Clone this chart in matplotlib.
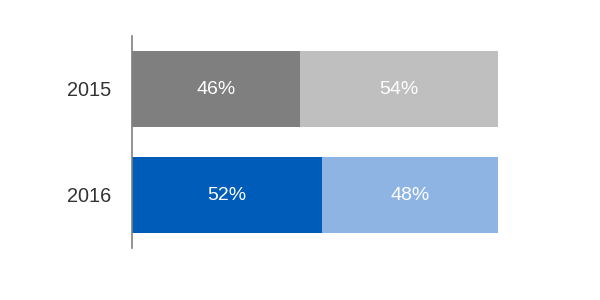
import matplotlib
matplotlib.use("Agg")
import matplotlib.pyplot as plt

categories = ["2015", "2016"]
first_share = [46, 52]
second_share = [54, 48]
first_colors = ["#7f7f7f", "#005cb9"]
second_colors = ["#bfbfbf", "#8eb4e3"]

plt.rcParams['font.family'] = ['Liberation Sans', 'DejaVu Sans']

fig = plt.figure(figsize=(6, 3), dpi=100)
ax = fig.add_axes([132/600, 52/300, 366/600, 212/300])

y = list(range(len(categories)))
ax.barh(y, first_share, height=0.72, color=first_colors)
ax.barh(y, second_share, left=first_share, height=0.72, color=second_colors)

for i in y:
    ax.text(first_share[i] / 2, i, f"{first_share[i]}%", ha="center", va="center",
            color="white", fontsize=14)
    ax.text(first_share[i] + second_share[i] / 2, i, f"{second_share[i]}%", ha="center",
            va="center", color="white", fontsize=14)

ax.set_xlim(0, 100)
ax.set_ylim(1.5, -0.5)
ax.set_yticks(y)
ax.set_yticklabels(categories, fontsize=14.3, color="#333333")
ax.tick_params(axis="y", length=0, pad=15)
ax.set_xticks([])
for s in ["top", "right", "bottom"]:
    ax.spines[s].set_visible(False)
ax.spines["left"].set_color("#808080")
ax.spines["left"].set_linewidth(1.2)

fig.savefig("out.png", dpi=100)
